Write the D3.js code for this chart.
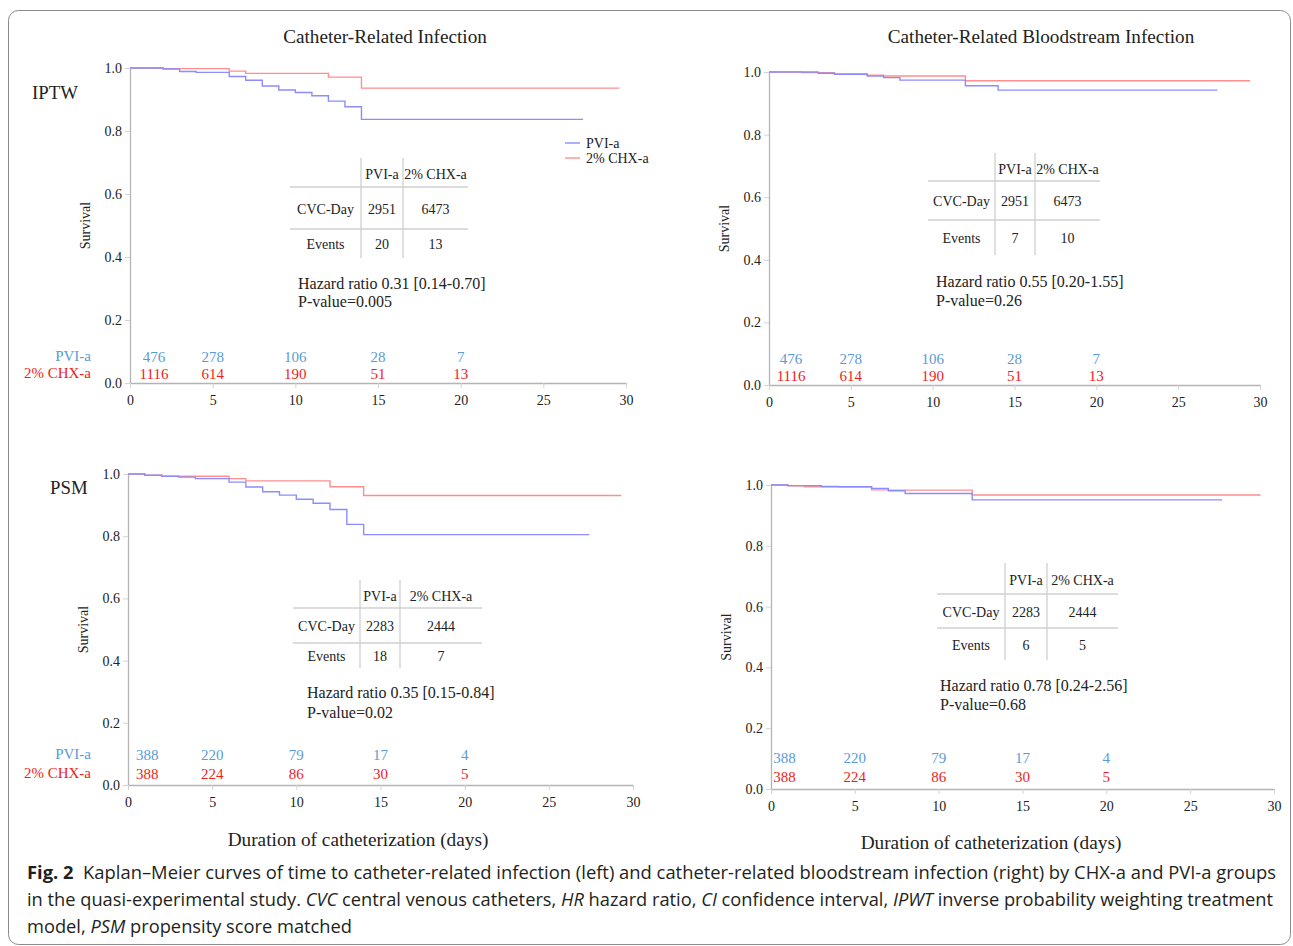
<!DOCTYPE html>
<html>
<head>
<meta charset="utf-8">
<script src="https://cdn.jsdelivr.net/npm/d3@7"></script>
<style>
  html, body { margin: 0; padding: 0; background: #fff; }
  svg { display: block; font-family: "Liberation Serif", "Times New Roman", serif; }
</style>
</head>
<body>
<div id="chart"></div>
<script>
// --- data ---
const xTicks = [0, 5, 10, 15, 20, 25, 30]
const yTicks = [0, 0.2, 0.4, 0.6, 0.8, 1.0]
const riskDays = [1.5, 5, 10, 15, 20]

// CRI, IPTW
const criIptwPviT = [0, 2, 3, 4, 6, 7, 8, 9, 10, 11, 12, 13, 14]
const criIptwPviS = [1, 0.997, 0.989, 0.986, 0.973, 0.961, 0.943, 0.930, 0.922, 0.912, 0.895, 0.877, 0.837]
const criIptwPviEnd = 27.4
const criIptwChxT = [0, 2, 6, 7, 12, 14]
const criIptwChxS = [1, 0.998, 0.990, 0.983, 0.971, 0.936]
const criIptwChxEnd = 29.6

// CRBSI, IPTW
const crbsiIptwPviT = [0, 3, 4, 6, 7, 8, 12, 14]
const crbsiIptwPviS = [1, 0.996, 0.993, 0.987, 0.982, 0.974, 0.956, 0.942]
const crbsiIptwPviEnd = 27.4
const crbsiIptwChxT = [0, 2, 4, 6, 7, 12]
const crbsiIptwChxS = [1, 0.998, 0.994, 0.990, 0.987, 0.972]
const crbsiIptwChxEnd = 29.4

// CRI, PSM
const criPsmPviT = [0, 1, 2, 3, 4, 6, 7, 8, 9, 10, 11, 12, 13, 14]
const criPsmPviS = [1, 0.996, 0.993, 0.990, 0.985, 0.974, 0.958, 0.943, 0.932, 0.919, 0.906, 0.886, 0.838, 0.805]
const criPsmPviEnd = 27.4
const criPsmChxT = [0, 1, 2, 6, 7, 12, 14]
const criPsmChxS = [1, 0.996, 0.993, 0.985, 0.978, 0.959, 0.931]
const criPsmChxEnd = 29.3

// CRBSI, PSM
const crbsiPsmPviT = [0, 1, 3, 4, 6, 7, 8, 12]
const crbsiPsmPviS = [1, 0.998, 0.995, 0.994, 0.989, 0.981, 0.972, 0.951]
const crbsiPsmPviEnd = 26.9
const crbsiPsmChxT = [0, 1, 2, 6, 7, 12]
const crbsiPsmChxS = [1, 0.997, 0.994, 0.984, 0.983, 0.967]
const crbsiPsmChxEnd = 29.2

// numbers at risk
const riskIptwPvi = [476, 278, 106, 28, 7]
const riskIptwChx = [1116, 614, 190, 51, 13]
const riskPsmPvi = [388, 220, 79, 17, 4]
const riskPsmChx = [388, 224, 86, 30, 5]

// tables
const tableHead = ['', 'PVI-a', '2% CHX-a']
const rowLabels = ['CVC-Day', 'Events']
const criIptwTable = [[2951, 6473], [20, 13]]
const crbsiIptwTable = [[2951, 6473], [7, 10]]
const criPsmTable = [[2283, 2444], [18, 7]]
const crbsiPsmTable = [[2283, 2444], [6, 5]]

const hrTexts = ['Hazard ratio 0.31 [0.14-0.70]', 'Hazard ratio 0.55 [0.20-1.55]', 'Hazard ratio 0.35 [0.15-0.84]', 'Hazard ratio 0.78 [0.24-2.56]']
const pTexts = ['P-value=0.005', 'P-value=0.26', 'P-value=0.02', 'P-value=0.68']

const colTitles = ['Catheter-Related Infection', 'Catheter-Related Bloodstream Infection']
const rowTitles = ['IPTW', 'PSM']
const groups = ['PVI-a', '2% CHX-a']

const pviLine = '#8c8cff', chxLine = '#ff8f8f'
const pviText = '#5b9bd5', chxText = '#f01d1d'
const axisCol = '#b4b4b4'

// --- layout (pixel frames) ---
const panels = [
  { x0: 130, x1: 626, yTop: 68, yBot: 383, pvi: [criIptwPviT, criIptwPviS, criIptwPviEnd], chx: [criIptwChxT, criIptwChxS, criIptwChxEnd],
    risk: [riskIptwPvi, riskIptwChx], riskY: [357, 374], firstDay: 1.45, riskLabels: true,
    table: criIptwTable, tb: { l: 290, v1: 361, v2: 403, r: 468, t: 158, h1: 187, h2: 229, b: 258 }, hr: [298, 283, 301], legend: true },
  { x0: 769, x1: 1260, yTop: 72, yBot: 385, pvi: [crbsiIptwPviT, crbsiIptwPviS, crbsiIptwPviEnd], chx: [crbsiIptwChxT, crbsiIptwChxS, crbsiIptwChxEnd],
    risk: [riskIptwPvi, riskIptwChx], riskY: [359, 376], firstDay: 1.35, riskLabels: false,
    table: crbsiIptwTable, tb: { l: 928, v1: 995, v2: 1035, r: 1100, t: 153, h1: 181, h2: 220, b: 255 }, hr: [936, 281, 300] },
  { x0: 128, x1: 633, yTop: 474, yBot: 785, pvi: [criPsmPviT, criPsmPviS, criPsmPviEnd], chx: [criPsmChxT, criPsmChxS, criPsmChxEnd],
    risk: [riskPsmPvi, riskPsmChx], riskY: [755, 774], firstDay: 1.15, riskLabels: true,
    table: criPsmTable, tb: { l: 293, v1: 360, v2: 400, r: 482, t: 580, h1: 608, h2: 643, b: 668 }, hr: [307, 692, 712] },
  { x0: 771, x1: 1274, yTop: 485, yBot: 789, pvi: [crbsiPsmPviT, crbsiPsmPviS, crbsiPsmPviEnd], chx: [crbsiPsmChxT, crbsiPsmChxS, crbsiPsmChxEnd],
    risk: [riskPsmPvi, riskPsmChx], riskY: [758, 777], firstDay: 0.8, riskLabels: false,
    table: crbsiPsmTable, tb: { l: 937, v1: 1005, v2: 1047, r: 1118, t: 563, h1: 594, h2: 628, b: 660 }, hr: [940, 685, 704] },
]

const W = 1293, H = 946
const svg = d3.select('#chart').append('svg').attr('width', W).attr('height', H)

svg.append('rect')
  .attr('x', 8.5).attr('y', 10.5).attr('width', 1282).attr('height', 934).attr('rx', 10)
  .attr('fill', 'none').attr('stroke', '#8a8a8a').attr('stroke-width', 1)

// column and row titles
svg.selectAll('.coltitle').data(colTitles).join('text')
  .attr('x', (d, i) => [385, 1041][i]).attr('y', 43)
  .attr('text-anchor', 'middle').attr('font-size', 19.2).attr('fill', '#222')
  .text(d => d)
svg.selectAll('.rowtitle').data(rowTitles).join('text')
  .attr('x', (d, i) => [32, 50][i]).attr('y', (d, i) => [99, 494][i])
  .attr('font-size', 18.8).attr('fill', '#222')
  .text(d => d)

const stepLine = d3.line().curve(d3.curveStepAfter)

panels.forEach(p => {
  const x = d3.scaleLinear().domain([0, 30]).range([p.x0, p.x1])
  const y = d3.scaleLinear().domain([0, 1]).range([p.yBot, p.yTop])
  const g = svg.append('g')

  // axes
  const yAxis = g.append('g').attr('transform', `translate(${p.x0},0)`)
    .call(d3.axisLeft(y).tickValues(yTicks).tickFormat(d3.format('.1f')).tickSize(5).tickSizeOuter(0))
  const xAxis = g.append('g').attr('transform', `translate(0,${p.yBot})`)
    .call(d3.axisBottom(x).tickValues(xTicks).tickSize(5).tickSizeOuter(0))
  ;[yAxis, xAxis].forEach(a => {
    a.select('.domain').attr('stroke', axisCol).attr('stroke-width', 1.3)
    a.selectAll('.tick line').attr('stroke', '#d4d4d4')
    a.selectAll('.tick text').attr('fill', '#222').attr('font-size', 14)
      .attr('font-family', '"Liberation Serif", serif')
  })
  yAxis.selectAll('.tick text').attr('x', -8)
  xAxis.selectAll('.tick text').attr('y', 12)

  g.append('text')
    .attr('transform', `translate(${p.x0 - 40},${(p.yTop + p.yBot) / 2}) rotate(-90)`)
    .attr('text-anchor', 'middle').attr('font-size', 14).attr('fill', '#222')
    .text('Survival')

  // curves
  ;[[p.chx, chxLine], [p.pvi, pviLine]].forEach(([[t, s, end], col]) => {
    const pts = t.map((d, i) => [x(d), y(s[i])])
    pts.push([x(end), y(s[s.length - 1])])
    g.append('path').attr('d', stepLine(pts))
      .attr('fill', 'none').attr('stroke', col).attr('stroke-width', 1.4)
  })

  // numbers at risk
  const days = riskDays.map((d, i) => i === 0 ? p.firstDay : d)
  p.risk.forEach((arr, k) => {
    g.selectAll(null).data(arr).join('text')
      .attr('x', (d, i) => x(days[i])).attr('y', p.riskY[k]).attr('dy', '0.35em')
      .attr('text-anchor', 'middle').attr('font-size', 15)
      .attr('fill', k === 0 ? pviText : chxText)
      .text(d => d)
    if (p.riskLabels) {
      g.append('text').attr('x', 91).attr('y', p.riskY[k] - 1).attr('dy', '0.35em')
        .attr('text-anchor', 'end').attr('font-size', 15)
        .attr('fill', k === 0 ? pviText : chxText)
        .text(groups[k])
    }
  })

  // table
  const tb = p.tb
  const tg = g.append('g').attr('stroke', '#d0d0d0').attr('stroke-width', 1.3)
  ;[tb.v1, tb.v2].forEach(v => tg.append('line').attr('x1', v).attr('x2', v).attr('y1', tb.t).attr('y2', tb.b))
  ;[tb.h1, tb.h2].forEach(h => tg.append('line').attr('x1', tb.l).attr('x2', tb.r).attr('y1', h).attr('y2', h))
  const cx = [(tb.l + tb.v1) / 2, (tb.v1 + tb.v2) / 2, (tb.v2 + tb.r) / 2]
  const cy = [(tb.t + tb.h1) / 2 + 2, (tb.h1 + tb.h2) / 2 + 1, (tb.h2 + tb.b) / 2 + 1]
  const cells = tableHead.map((d, i) => ({ r: 0, c: i, v: d }))
  rowLabels.forEach((lab, r) => {
    cells.push({ r: r + 1, c: 0, v: lab })
    p.table[r].forEach((v, c) => cells.push({ r: r + 1, c: c + 1, v }))
  })
  g.selectAll(null).data(cells).join('text')
    .attr('x', d => cx[d.c]).attr('y', d => cy[d.r]).attr('dy', '0.35em')
    .attr('text-anchor', 'middle').attr('font-size', 14).attr('fill', '#222')
    .text(d => d.v)

  const i = panels.indexOf(p)
  g.append('text').attr('x', p.hr[0]).attr('y', p.hr[1]).attr('dy', '0.35em')
    .attr('font-size', 16).attr('fill', '#222').text(hrTexts[i])
  g.append('text').attr('x', p.hr[0]).attr('y', p.hr[2]).attr('dy', '0.35em')
    .attr('font-size', 16).attr('fill', '#222').text(pTexts[i])

  if (p.legend) {
    ;[pviLine, chxLine].forEach((col, k) => {
      const ly = 143 + k * 15
      g.append('line').attr('x1', 565).attr('x2', 580).attr('y1', ly).attr('y2', ly)
        .attr('stroke', col).attr('stroke-width', 1.4)
      g.append('text').attr('x', 586).attr('y', ly).attr('dy', '0.35em')
        .attr('font-size', 14).attr('fill', '#222').text(groups[k])
    })
  }
})

// x axis titles
;[[358, 846], [991, 849]].forEach(([tx, ty]) => {
  svg.append('text').attr('x', tx).attr('y', ty).attr('text-anchor', 'middle')
    .attr('font-size', 19.3).attr('fill', '#222').text('Duration of catheterization (days)')
})

// caption
const capLines = [
  { y: 879, len: 1249, parts: [['Fig. 2', 'bold'], ['  Kaplan–Meier curves of time to catheter-related infection (left) and catheter-related bloodstream infection (right) by CHX-a and PVI-a groups', '']] },
  { y: 906, len: 1246, parts: [['in the quasi-experimental study. ', ''], ['CVC', 'italic'], [' central venous catheters, ', ''], ['HR', 'italic'], [' hazard ratio, ', ''], ['CI', 'italic'], [' confidence interval, ', ''], ['IPWT', 'italic'], [' inverse probability weighting treatment', '']] },
  { y: 933, len: 325, parts: [['model, ', ''], ['PSM', 'italic'], [' propensity score matched', '']] },
]
capLines.forEach(l => {
  const t = svg.append('text').attr('x', 27).attr('y', l.y)
    .attr('font-family', '"Open Sans", "Noto Sans", sans-serif').attr('font-size', 18)
    .attr('fill', '#231f20').attr('xml:space', 'preserve')
    .attr('textLength', l.len).attr('lengthAdjust', 'spacingAndGlyphs')
  l.parts.forEach(([s, st]) => {
    const ts = t.append('tspan').text(s)
    if (st === 'bold') ts.attr('font-weight', 'bold')
    if (st === 'italic') ts.attr('font-style', 'italic')
  })
})
</script>
</body>
</html>
